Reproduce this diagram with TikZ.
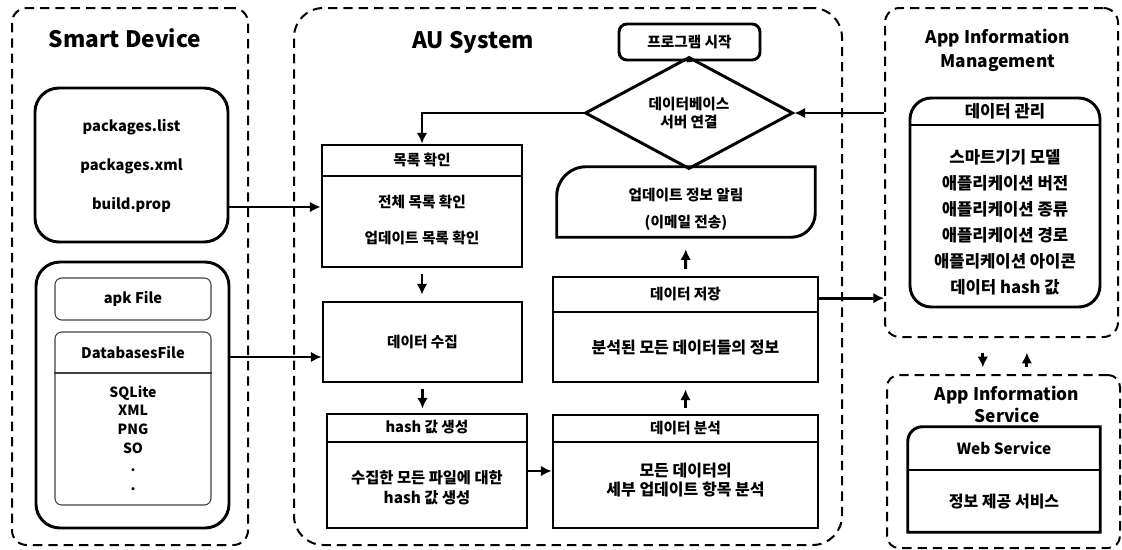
\documentclass[tikz,border=0pt]{standalone}
\usepackage{fontspec}
\setmainfont{Noto Sans CJK KR}
\usetikzlibrary{shapes.geometric,arrows.meta}

\tikzset{
  grp/.style={draw,line width=1.5pt,dash pattern=on 7pt off 4.5pt,rounded corners=11pt,inner sep=0pt},
  blk/.style={draw,line width=2.2pt,inner sep=0pt},
  sub/.style={draw=black!75,line width=0.8pt,rounded corners=5pt,inner sep=0pt},
  txt/.style={font=\bfseries\fontsize{11}{13}\selectfont,align=center,inner sep=0pt},
  bigtxt/.style={font=\bfseries\fontsize{12}{14}\selectfont,align=center,inner sep=0pt},
  smalltxt/.style={font=\bfseries\fontsize{11}{13}\selectfont,align=center},
  hdr/.style={font=\bfseries\fontsize{17}{19}\selectfont,align=center,inner sep=0pt},
  divline/.style={line width=0.9pt},
  flow/.style={line width=2.2pt,->},
}

\begin{document}
\begin{tikzpicture}[x=0.75pt,y=-0.75pt,>={Latex[length=8pt,width=8pt]}]
\useasboundingbox (0,0) rectangle (1122,550);

% smart device side
\node[grp,minimum width=177pt,minimum height=402.75pt] (smart) at (130,276.5) {};
\node[hdr] (smarttitle) at (125,38) {Smart Device};
\node[blk,rounded corners=18pt,minimum width=144.75pt,minimum height=115.5pt] (srcbox) at (131.5,165) {};
\node[txt] (srctext) at (131.5,166) {packages.list\\[16pt]packages.xml\\[16pt]build.prop};
\node[blk,rounded corners=18pt,minimum width=144.75pt,minimum height=199.5pt] (filebox) at (132.5,395) {};
\node[sub,txt,minimum width=117pt,minimum height=31.5pt] (apkbox) at (133,299) {apk File};
\node[sub,minimum width=117pt,minimum height=129.75pt] (dbbox) at (133,418.5) {};
\node[txt,minimum height=30.75pt,anchor=north] (dbhead) at (dbbox.north) {DatabasesFile};
\draw[divline,black!75] (dbbox.west |- dbhead.south) -- (dbbox.east |- dbhead.south);
\node[txt,font=\bfseries\fontsize{10.5}{14}\selectfont] (dbtext) at (133,438) {SQLite\\XML\\PNG\\SO\\.\\.};

% AU system
\node[grp,rounded corners=22pt,minimum width=411pt,minimum height=402.75pt] (au) at (568,276.5) {};
\node[hdr] (autitle) at (473,42) {AU System};
\node[blk,smalltxt,rounded corners=6pt,minimum width=105.75pt,minimum height=27pt] (start) at (689.5,42) {프로그램 시작};
\node[blk,smalltxt,diamond,minimum width=156pt,minimum height=58.5pt] (dbconn) at (689,113) {데이터베이스\\서버 연결};

\node[blk,minimum width=150pt,minimum height=91.5pt] (listbox) at (422,206) {};
\node[txt,minimum height=24pt,anchor=north] (listhead) at (listbox.north) {목록 확인};
\draw[divline] (listbox.west |- listhead.south) -- (listbox.east |- listhead.south);
\node[txt] (listtext) at (422,220) {전체 목록 확인\\[14pt]업데이트 목록 확인};

\node[blk,txt,minimum width=149.25pt,minimum height=60pt] (collectbox) at (422.5,342) {데이터 수집};

\node[blk,minimum width=150pt,minimum height=85.5pt] (hashbox) at (427,471) {};
\node[txt,minimum height=21.75pt,anchor=north] (hashhead) at (hashbox.north) {hash 값 생성};
\draw[divline] (hashbox.west |- hashhead.south) -- (hashbox.east |- hashhead.south);
\node[txt,font=\bfseries\fontsize{11.5}{13.5}\selectfont] (hashtext) at (427,488) {수집한 모든 파일에 대한\\[1.5pt]hash 값 생성};

\node[blk,minimum width=198.75pt,minimum height=84.75pt] (analysisbox) at (685.5,471.5) {};
\node[txt,minimum height=21pt,anchor=north] (analysishead) at (analysisbox.north) {데이터 분석};
\draw[divline] (analysisbox.west |- analysishead.south) -- (analysisbox.east |- analysishead.south);
\node[bigtxt] (analysistext) at (685.5,480) {모든 데이터의\\[0.5pt]세부 업데이트 항목 분석};

\node[blk,minimum width=198.75pt,minimum height=78.75pt] (storebox) at (685.5,329.5) {};
\node[txt,minimum height=27pt,anchor=north] (storehead) at (storebox.north) {데이터 저장};
\draw[divline] (storebox.west |- storehead.south) -- (storebox.east |- storehead.south);
\node[bigtxt] (storetext) at (685.5,348) {분석된 모든 데이터들의 정보};

\node[minimum width=193.5pt,minimum height=52.5pt,inner sep=0pt] (notify) at (686,202) {};
\draw[line width=2.2pt] ([yshift=-22pt]notify.north west) arc[start angle=180,end angle=90,radius=22pt]
  -- (notify.north east) -- ([yshift=18pt]notify.south east) arc[start angle=0,end angle=-90,radius=18pt]
  -- (notify.south west) -- cycle;
\node[txt] (notifytext) at (686,209) {업데이트 정보 알림\\[7pt](이메일 전송)};

% app information management
\node[grp,minimum width=174.75pt,minimum height=246.75pt] (mgmt) at (1001.5,172.5) {};
\node[txt,font=\bfseries\fontsize{13}{18}\selectfont] (mgmttitle) at (998,50) {App Information\\Management};
\node[blk,rounded corners=16pt,minimum width=142.5pt,minimum height=156.75pt] (manage) at (1005,202.5) {};
\node[txt,font=\bfseries\fontsize{12.5}{14.5}\selectfont,minimum height=21pt,anchor=north] (managehead) at (manage.north) {데이터 관리};
\draw[divline] (manage.west |- managehead.south) -- (manage.east |- managehead.south);
\node[txt,font=\bfseries\fontsize{12.5}{14.5}\selectfont] (managetext) at (1005,222) {스마트기기 모델\\[5pt]애플리케이션 버전\\[5pt]애플리케이션 종류\\[5pt]애플리케이션 경로\\[5pt]애플리케이션 아이콘\\[5pt]데이터 hash 값};

% app information service
\node[grp,rounded corners=9pt,minimum width=174.75pt,minimum height=129.75pt] (service) at (1003.5,461.5) {};
\node[txt,font=\bfseries\fontsize{13}{16.5}\selectfont] (servicetitle) at (1007,404) {App Information\\Service};
\node[minimum width=144pt,minimum height=78.75pt,inner sep=0pt] (web) at (1004,479.5) {};
\draw[line width=2.2pt] ([yshift=-11pt]web.north west) arc[start angle=180,end angle=90,radius=11pt]
  -- (web.north east) -- (web.south east) -- (web.south west) -- cycle;
\node[txt,font=\bfseries\fontsize{11.5}{13.5}\selectfont,minimum height=32pt,anchor=north] (webhead) at (web.north) {Web Service};
\draw[divline] (web.west |- webhead.south) -- (web.east |- webhead.south);
\node[bigtxt] (webtext) at (1004,502) {정보 제공 서비스};

% connectors
\coordinate (srcout) at ([yshift=-31.5pt]srcbox.east);
\draw[flow] (srcout) -- (srcout -| listbox.west);
\coordinate (fileout) at ([yshift=28.5pt]filebox.east);
\draw[flow] (fileout) -- (fileout -| collectbox.west);
\draw[flow,shorten <=4.5pt,shorten >=4.5pt] (listbox.south) -- (listbox.south |- collectbox.north);
\draw[flow,shorten <=4.5pt,shorten >=3pt] (collectbox.south) -- (collectbox.south |- hashbox.north);
\draw[flow] (hashbox.east) -- (hashbox.east -| analysisbox.west);
\draw[flow,shorten <=4pt,shorten >=4.5pt] (analysisbox.north) -- (storebox.south);
\draw[flow,shorten <=5pt,shorten >=9pt] (storebox.north) -- (notify.south);
\coordinate (storeout) at ([yshift=23.5pt]storebox.east);
\draw[flow] (storeout) -- (storeout -| mgmt.west);
\draw[flow] (mgmt.west |- dbconn.east) -- (dbconn.east);
\draw[flow] (dbconn.west) -| (listbox.north);
\draw[line width=0.9pt,->,>={Latex[length=5pt,width=4.5pt]}] (start.south) -- (dbconn.north);
\draw[flow,shorten <=11pt,shorten >=5pt] ([xshift=-14pt]mgmt.south) -- ([xshift=-14pt]mgmt.south |- service.north);
\draw[flow,shorten <=5pt,shorten >=11pt] ([xshift=17.5pt]service.north) -- ([xshift=17.5pt]service.north |- mgmt.south);
\end{tikzpicture}
\end{document}
